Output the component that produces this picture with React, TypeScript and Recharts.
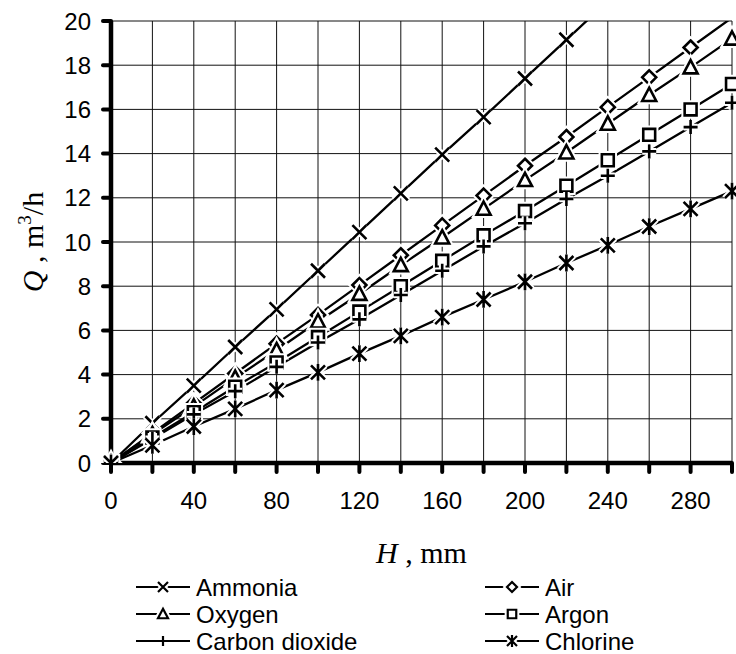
import { CartesianGrid, Line, LineChart, XAxis, YAxis } from "recharts"

const H_MM = [0, 20, 40, 60, 80, 100, 120, 140, 160, 180, 200, 220, 240, 260, 280, 300]
const Q_TICKS = [0, 2, 4, 6, 8, 10, 12, 14, 16, 18, 20]

const AMMONIA = [0, 1.8, 3.5, 5.25, 6.95, 8.7, 10.45, 12.2, 13.95, 15.65, 17.4, 19.15, 20.9, 22.6, 24.35, 26.1]
const AIR = [0, 1.35, 2.7, 4.05, 5.4, 6.7, 8.05, 9.4, 10.75, 12.1, 13.45, 14.75, 16.1, 17.45, 18.8, 20.15]
const OXYGEN = [0, 1.3, 2.55, 3.85, 5.1, 6.4, 7.65, 8.95, 10.2, 11.5, 12.8, 14.05, 15.35, 16.65, 17.9, 19.2]
const ARGON = [0, 1.15, 2.3, 3.45, 4.55, 5.7, 6.85, 8.0, 9.15, 10.3, 11.4, 12.55, 13.7, 14.85, 16.0, 17.15]
const CARBON_DIOXIDE = [0, 1.1, 2.2, 3.25, 4.35, 5.45, 6.5, 7.6, 8.7, 9.8, 10.85, 11.95, 13.0, 14.1, 15.2, 16.3]
const CHLORINE = [0, 0.8, 1.65, 2.45, 3.3, 4.1, 4.95, 5.75, 6.6, 7.4, 8.2, 9.05, 9.85, 10.7, 11.5, 12.3]

type MarkerKind = "cross" | "diamond" | "triangle" | "square" | "plus" | "star"

const SERIES: { key: string; name: string; values: number[]; marker: MarkerKind }[] = [
    { key: "ammonia", name: "Ammonia", values: AMMONIA, marker: "cross" },
    { key: "air", name: "Air", values: AIR, marker: "diamond" },
    { key: "oxygen", name: "Oxygen", values: OXYGEN, marker: "triangle" },
    { key: "argon", name: "Argon", values: ARGON, marker: "square" },
    { key: "co2", name: "Carbon dioxide", values: CARBON_DIOXIDE, marker: "plus" },
    { key: "chlorine", name: "Chlorine", values: CHLORINE, marker: "star" },
]

const Q_MAX = 20

const chartData = H_MM.map((h, i) => {
    const row: Record<string, number> = { h }
    SERIES.forEach(s => { row[s.key] = s.values[i] })
    return row
})

const SANS = "'Liberation Sans', Arial, sans-serif"
const SERIF = "'Liberation Serif', 'Times New Roman', serif"

const markerPath = (kind: MarkerKind, r: number) => {
    switch (kind) {
        case "cross":
            return `M${-r},${-r}L${r},${r}M${-r},${r}L${r},${-r}`
        case "star":
            return `M${-r},${-r}L${r},${r}M${-r},${r}L${r},${-r}M0,${-r * 1.2}L0,${r * 1.2}`
        case "plus":
            return `M${-r},0L${r},0M0,${-r}L0,${r}`
        case "diamond":
            return `M0,${-r}L${r},0L0,${r}L${-r},0Z`
        case "triangle":
            return `M0,${-r * 1.05}L${r},${r * 0.85}L${-r},${r * 0.85}Z`
        case "square":
            return `M${-r * 0.85},${-r * 0.85}H${r * 0.85}V${r * 0.85}H${-r * 0.85}Z`
    }
}

const Marker = ({ cx, cy, kind, r, w }: { cx: number; cy: number; kind: MarkerKind; r: number; w: number }) => {
    const d = markerPath(kind, r)
    const closed = kind === "diamond" || kind === "triangle" || kind === "square"
    return (
        <g transform={`translate(${cx},${cy})`}>
            <path d={d} fill={closed ? "#fff" : "none"} stroke="#fff" strokeWidth={w + 4} />
            <path d={d} fill={closed ? "#fff" : "none"} stroke="#000" strokeWidth={w} />
        </g>
    )
}

const renderXTick = ({ x, y, payload }: any) => {
    const v = payload.value
    if (v % 40 !== 0 || v >= 300) return <g />
    return (
        <text x={x} y={y + 37} textAnchor="middle" fill="#000" fontSize={24} fontFamily={SANS}>
            {v}
        </text>
    )
}

const XLabel = ({ viewBox }: any) => {
    const cx = viewBox.x + viewBox.width / 2
    return (
        <text x={cx} y={viewBox.y + 100} textAnchor="middle" fill="#000" fontSize={30} fontFamily={SERIF}>
            <tspan fontStyle="italic">H</tspan>
            <tspan> , mm</tspan>
        </text>
    )
}

const YLabel = ({ viewBox }: any) => {
    const cy = viewBox.y + viewBox.height / 2
    const x = 43
    return (
        <text
            x={x}
            y={cy}
            transform={`rotate(-90 ${x} ${cy})`}
            textAnchor="middle"
            fill="#000"
            fontSize={30}
            fontFamily={SERIF}
        >
            <tspan fontStyle="italic">Q</tspan>
            <tspan> ,  m</tspan>
            <tspan fontSize={19} dy={-12}>3</tspan>
            <tspan dy={12}>/h</tspan>
        </text>
    )
}

const LEGEND_COLS = [
    { lineX: 136, textX: 196 },
    { lineX: 485, textX: 545 },
]
const LEGEND_ROWS = [587, 614, 641]

function GasLegend() {
    return (
        <svg width={736} height={654} style={{ position: "absolute", left: 0, top: 0, pointerEvents: "none" }}>
            {SERIES.map((s, i) => {
                const col = LEGEND_COLS[i % 2]
                const y = LEGEND_ROWS[Math.floor(i / 2)]
                return (
                    <g key={s.key}>
                        <line x1={col.lineX} y1={y} x2={col.lineX + 54} y2={y} stroke="#000" strokeWidth={2.2} />
                        <Marker cx={col.lineX + 27} cy={y} kind={s.marker} r={5} w={2.2} />
                        <text x={col.textX} y={y + 9} fill="#000" fontSize={24} fontFamily={SANS}>
                            {s.name}
                        </text>
                    </g>
                )
            })}
        </svg>
    )
}

export default function App() {
    return (
        <div style={{ position: "absolute", left: 0, top: 0, width: 736, height: 654, background: "#fff" }}>
            <LineChart width={736} height={654} data={chartData} margin={{ top: 21, right: 4, bottom: 0, left: 0 }}>
                <CartesianGrid stroke="#111" strokeWidth={1} />
                <XAxis
                    type="number"
                    dataKey="h"
                    domain={[0, 300]}
                    ticks={H_MM}
                    interval={0}
                    height={191}
                    axisLine={{ stroke: "#000", strokeWidth: 4.5 }}
                    tickLine={{ stroke: "#000", strokeWidth: 4, strokeLinecap: "round" }}
                    tickSize={9}
                    tickMargin={0}
                    tick={renderXTick}
                    label={<XLabel />}
                />
                <YAxis
                    type="number"
                    domain={[0, Q_MAX]}
                    ticks={Q_TICKS}
                    interval={0}
                    allowDataOverflow
                    width={111}
                    axisLine={{ stroke: "#000", strokeWidth: 4.5 }}
                    tickLine={{ stroke: "#000", strokeWidth: 4, strokeLinecap: "round" }}
                    tickSize={8}
                    tickMargin={12}
                    tick={{ fill: "#000", fontSize: 24, fontFamily: SANS }}
                    label={<YLabel />}
                />
                {SERIES.map(s => (
                    <Line
                        key={s.key}
                        type="linear"
                        dataKey={s.key}
                        name={s.name}
                        stroke="#000"
                        strokeWidth={2.3}
                        isAnimationActive={false}
                        dot={(p: any) =>
                            p.value > Q_MAX ? (
                                <g key={`${s.key}-${p.index}`} />
                            ) : (
                                <Marker key={`${s.key}-${p.index}`} cx={p.cx} cy={p.cy} kind={s.marker} r={7} w={2.6} />
                            )
                        }
                        activeDot={false}
                    />
                ))}
            </LineChart>
            <GasLegend />
        </div>
    )
}
